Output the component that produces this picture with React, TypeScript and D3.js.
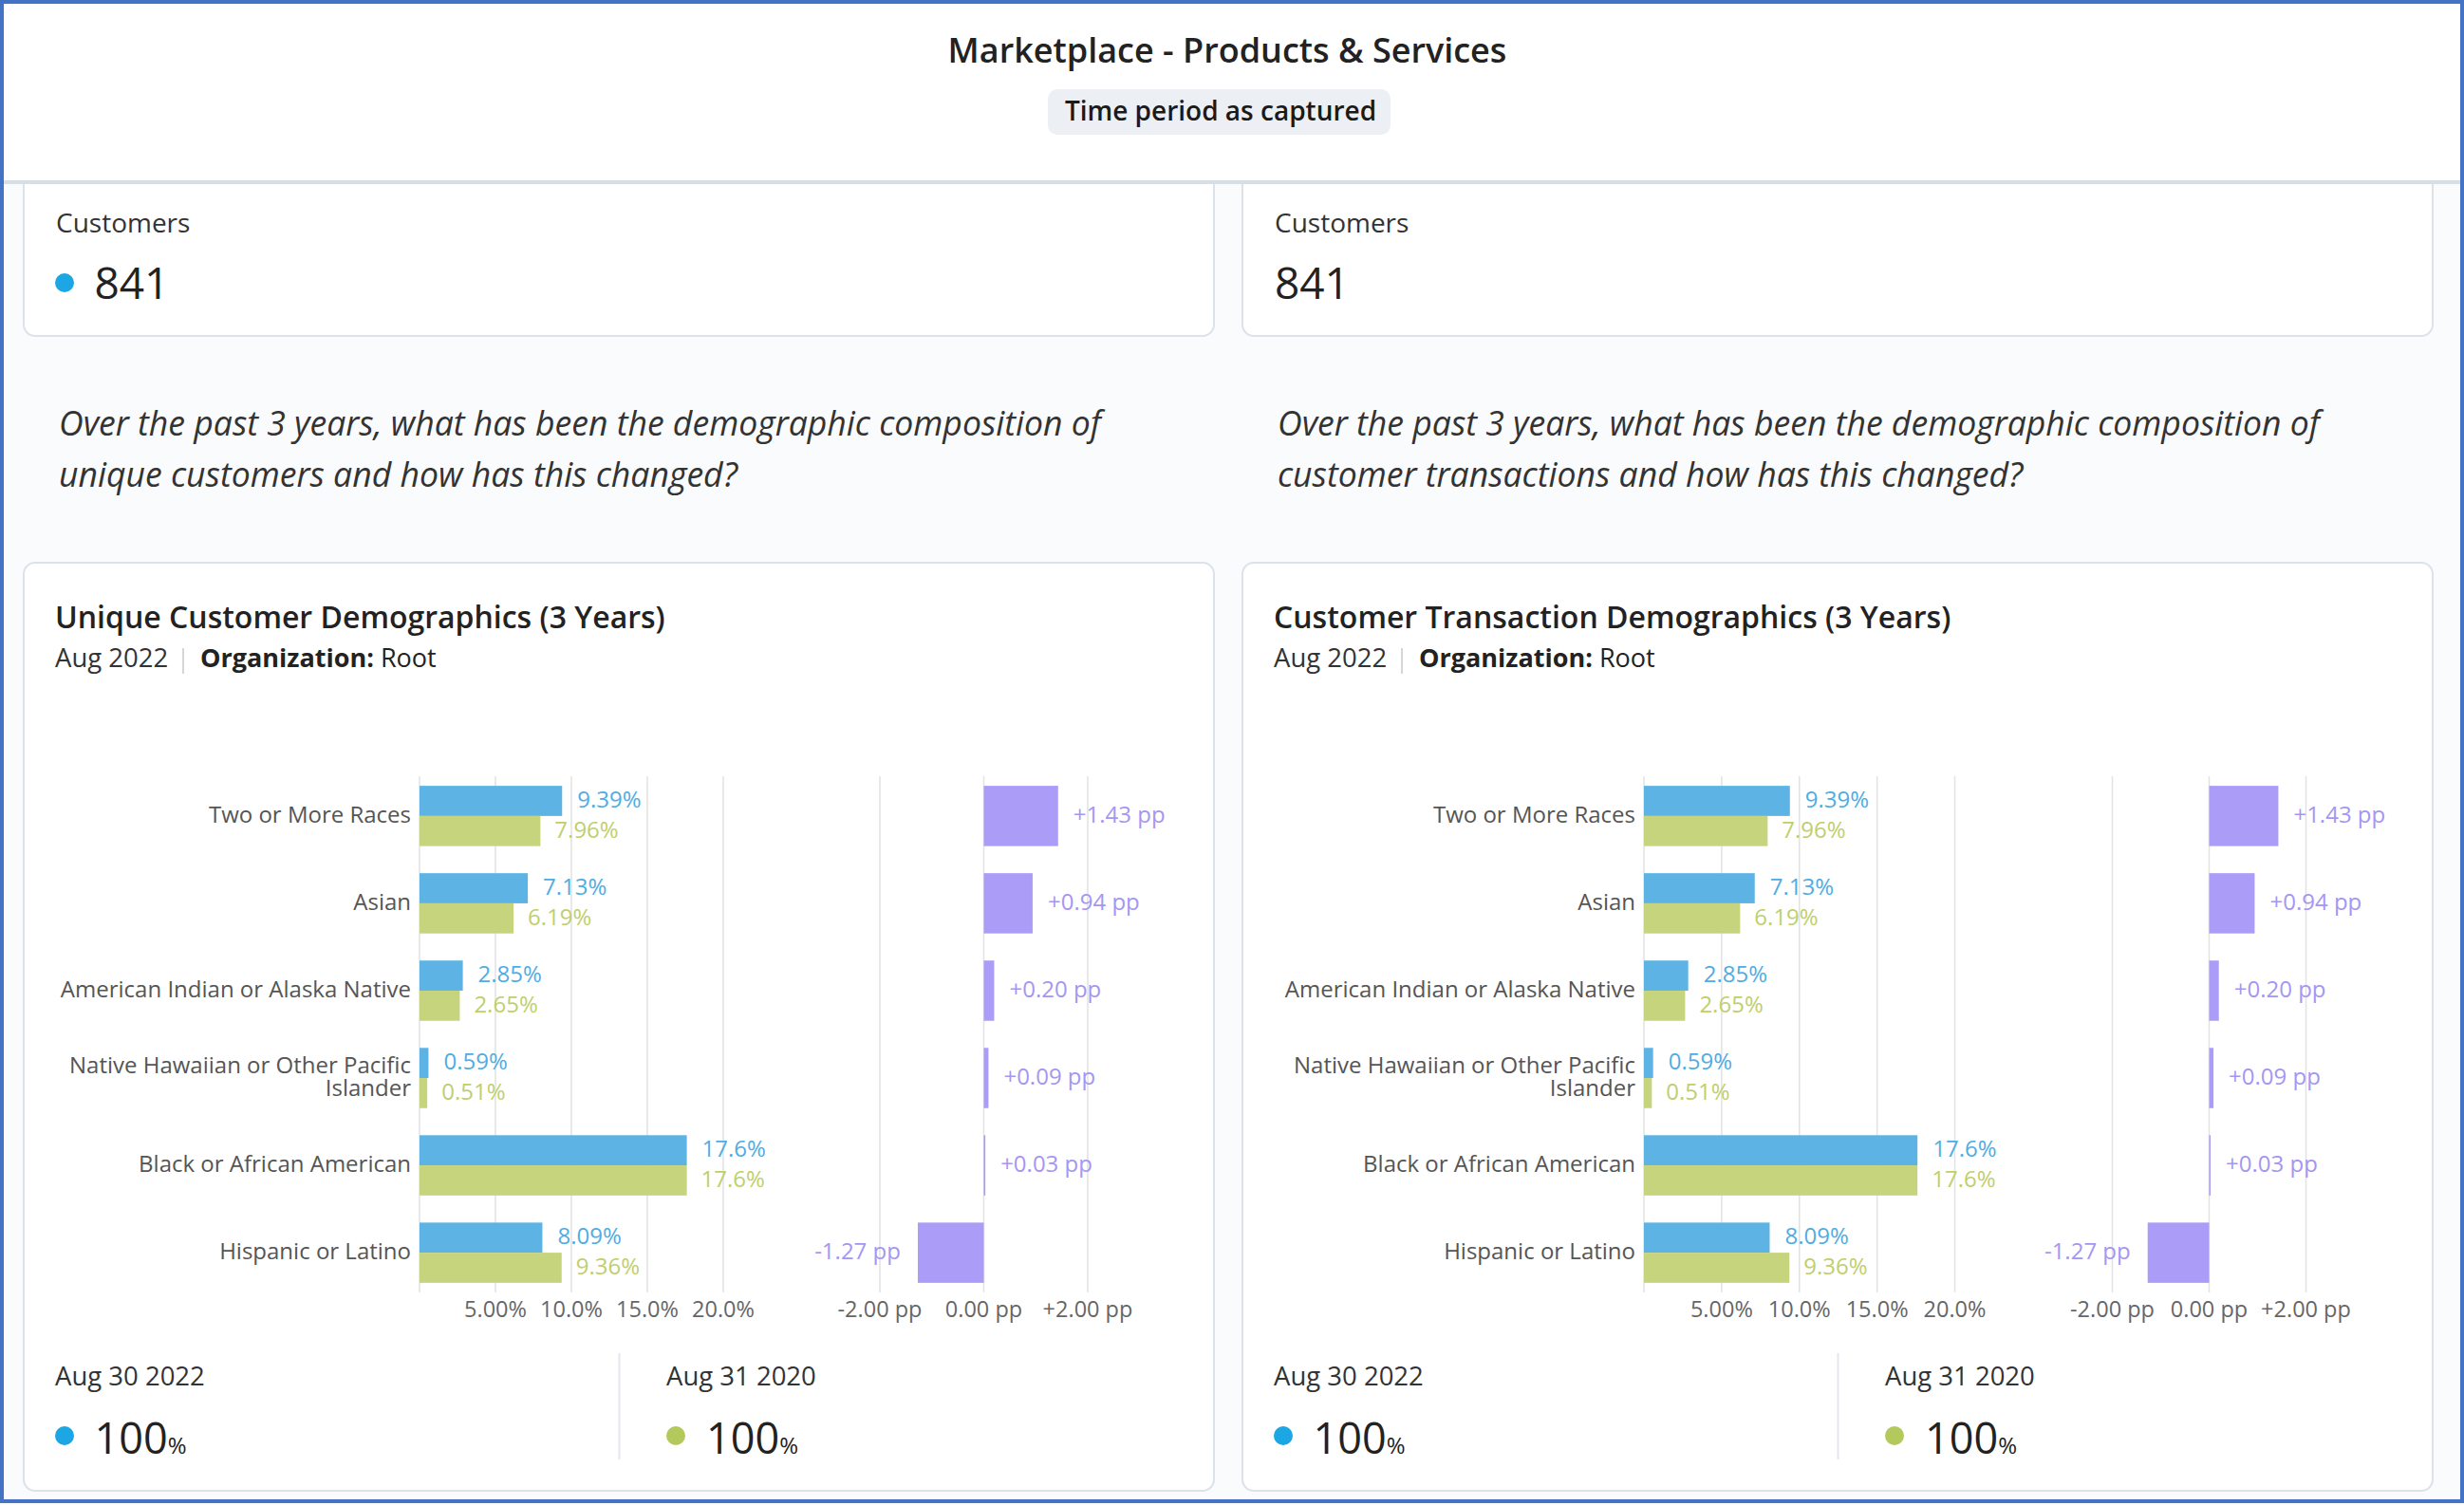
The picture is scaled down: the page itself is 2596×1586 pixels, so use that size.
import React, { useEffect } from "react";
import * as d3 from "d3";

const W = 2596;
const H = 1586;
const FONT = "'Open Sans', 'Noto Sans', sans-serif";

// ---------- data ----------
const CATEGORIES = [
  "Two or More Races",
  "Asian",
  "American Indian or Alaska Native",
  "Native Hawaiian or Other Pacific Islander",
  "Black or African American",
  "Hispanic or Latino",
];
const UNIQUE_2022 = [9.39, 7.13, 2.85, 0.59, 17.6, 8.09];
const UNIQUE_2020 = [7.96, 6.19, 2.65, 0.51, 17.6, 9.36];
const UNIQUE_DELTA = [1.43, 0.94, 0.2, 0.09, 0.03, -1.27];
const TRANS_2022 = [9.39, 7.13, 2.85, 0.59, 17.6, 8.09];
const TRANS_2020 = [7.96, 6.19, 2.65, 0.51, 17.6, 9.36];
const TRANS_DELTA = [1.43, 0.94, 0.2, 0.09, 0.03, -1.27];
const PCT_TICKS = [0, 5, 10, 15, 20];
const PP_TICKS = [-2, 0, 2];
const CUSTOMERS = 841;
const TOTAL_CURRENT = 100;
const TOTAL_PRIOR = 100;
const DATE_CURRENT = "Aug 30 2022";
const DATE_PRIOR = "Aug 31 2020";

// ---------- style ----------
const C_BLUE = "#5db4e4";
const C_GREEN = "#c6d47d";
const C_PURPLE = "#ab9df7";
const C_BLUE_TXT = "#4fade3";
const C_GREEN_TXT = "#c0cf6c";
const C_PURPLE_TXT = "#a596f4";
const C_DOT_BLUE = "#1ca6e4";
const C_DOT_GREEN = "#b4c95c";
const C_GRID = "#e2e2e2";
const C_BORDER = "#dce2ea";
const CHART_FS = 24;

const PANELS = [
  {
    x: 25,
    dot: true,
    question: [
      "Over the past 3 years, what has been the demographic composition of",
      "unique customers and how has this changed?",
    ],
    title: "Unique Customer Demographics (3 Years)",
    current: UNIQUE_2022,
    prior: UNIQUE_2020,
    delta: UNIQUE_DELTA,
    pctRange: [417, 737],
    ppRange: [902, 1121],
  },
  {
    x: 1309,
    dot: false,
    question: [
      "Over the past 3 years, what has been the demographic composition of",
      "customer transactions and how has this changed?",
    ],
    title: "Customer Transaction Demographics (3 Years)",
    current: TRANS_2022,
    prior: TRANS_2020,
    delta: TRANS_DELTA,
    pctRange: [423, 750.5],
    ppRange: [916.5, 1120.5],
  },
];

const CARD_W = 1254;
const fmtTick = d3.format(".3r");
const fmtPP = (v: number) =>
  v === 0 ? "0.00" : (v > 0 ? "+" : "-") + Math.abs(v).toFixed(2);

function wrap(label: string, maxChars: number): string[] {
  const words = label.split(" ");
  const lines: string[] = [];
  let cur = "";
  for (const w of words) {
    const next = cur ? cur + " " + w : w;
    if (next.length > maxChars && cur) {
      lines.push(cur);
      cur = w;
    } else cur = next;
  }
  if (cur) lines.push(cur);
  return lines;
}

function Panel({ cfg }: { cfg: any }) {
  const x0 = cfg.x;
  const pct = d3.scaleLinear().domain([0, 20]).range(cfg.pctRange.map((v: number) => v + x0));
  const pp = d3.scaleLinear().domain([-2, 2]).range(cfg.ppRange.map((v: number) => v + x0));
  const y = d3
    .scaleBand<string>()
    .domain(CATEGORIES)
    .range([818, 1362])
    .paddingInner(0.31)
    .paddingOuter(0.11);
  const bw = y.bandwidth();
  const half = bw / 2;
  const labelX = pct(0) - 9;
  const chartTop = 818;
  const chartBottom = 1362;

  return (
    <g>
      {/* KPI card */}
      <rect x={x0} y={150} width={CARD_W} height={204} rx={12} fill="#fff" stroke={C_BORDER} strokeWidth={2} />
      <text x={x0 + 34} y={245} fontSize={28} fill="#333">Customers</text>
      {cfg.dot && <circle cx={x0 + 43} cy={298} r={10} fill={C_DOT_BLUE} />}
      <text x={x0 + (cfg.dot ? 74.5 : 34)} y={315} fontSize={46} fill="#222">{CUSTOMERS}</text>

      {/* question */}
      {cfg.question.map((q: string, i: number) => (
        <text key={i} x={x0 + 37} y={459 + i * 53.5} fontSize={35.6} fontStyle="italic" fill="#333">{q}</text>
      ))}

      {/* chart card */}
      <rect x={x0} y={593} width={CARD_W} height={978} rx={12} fill="#fff" stroke={C_BORDER} strokeWidth={2} />
      <text x={x0 + 33} y={662} fontSize={32} fontWeight={600} fill="#222">{cfg.title}</text>
      <text x={x0 + 33} y={703} fontSize={27.5} fill="#333">Aug 2022</text>
      <line x1={x0 + 168} x2={x0 + 168} y1={683} y2={710} stroke="#c8c8c8" strokeWidth={1.5} />
      <text x={x0 + 186} y={703} fontSize={27} fill="#222">
        <tspan fontWeight={700}>Organization:</tspan>
        <tspan> Root</tspan>
      </text>

      {/* gridlines */}
      {PCT_TICKS.map((t) => (
        <line key={"g" + t} x1={pct(t)} x2={pct(t)} y1={chartTop} y2={chartBottom} stroke={C_GRID} strokeWidth={1.5} />
      ))}
      {PP_TICKS.map((t) => (
        <line key={"p" + t} x1={pp(t)} x2={pp(t)} y1={chartTop} y2={chartBottom} stroke={C_GRID} strokeWidth={1.5} />
      ))}

      {/* tick labels */}
      {PCT_TICKS.filter((t) => t > 0).map((t) => (
        <text key={"tl" + t} x={pct(t)} y={1379.5} dy="0.35em" textAnchor="middle" fontSize={23.5} fill="#666">
          {fmtTick(t)}%
        </text>
      ))}
      {PP_TICKS.map((t) => (
        <text key={"pl" + t} x={pp(t)} y={1379.5} dy="0.35em" textAnchor="middle" fontSize={23.5} fill="#666">
          {fmtPP(t)} pp
        </text>
      ))}

      {CATEGORIES.map((c, i) => {
        const top = y(c)!;
        const lines = wrap(c, 33);
        const cy = top + half;
        const cur = cfg.current[i];
        const pri = cfg.prior[i];
        const d = cfg.delta[i];
        const dx0 = pp(Math.min(0, d));
        const dx1 = pp(Math.max(0, d));
        return (
          <g key={c}>
            {lines.map((ln, k) => (
              <text
                key={k}
                x={labelX}
                y={cy + (k - (lines.length - 1) / 2) * 24 - 1.5}
                dy="0.35em"
                textAnchor="end"
                fontSize={CHART_FS}
                fill="#555"
              >
                {ln}
              </text>
            ))}
            <rect x={pct(0)} y={top} width={pct(cur) - pct(0)} height={half} fill={C_BLUE} />
            <rect x={pct(0)} y={top + half} width={pct(pri) - pct(0)} height={half} fill={C_GREEN} />
            <text x={pct(cur) + 16} y={top + half / 2 - 1.5} dy="0.35em" fontSize={CHART_FS} fill={C_BLUE_TXT}>
              {cur}%
            </text>
            <text x={pct(pri) + 15} y={top + half * 1.5 - 1.5} dy="0.35em" fontSize={CHART_FS} fill={C_GREEN_TXT}>
              {pri}%
            </text>
            <rect x={dx0} y={top} width={Math.max(dx1 - dx0, 1)} height={bw} fill={C_PURPLE} />
            <text
              x={d >= 0 ? dx1 + 16 : dx0 - 18}
              y={cy - 1.5}
              dy="0.35em"
              textAnchor={d >= 0 ? "start" : "end"}
              fontSize={CHART_FS}
              fill={C_PURPLE_TXT}
            >
              {fmtPP(d)} pp
            </text>
          </g>
        );
      })}

      {/* bottom KPIs */}
      <text x={x0 + 33} y={1460} fontSize={27.5} fill="#333">{DATE_CURRENT}</text>
      <circle cx={x0 + 43} cy={1513} r={10} fill={C_DOT_BLUE} />
      <text x={x0 + 74.5} y={1532} fontSize={45} fill="#222">
        {TOTAL_CURRENT}
        <tspan fontSize={24}>%</tspan>
      </text>
      <line x1={x0 + 627.5} x2={x0 + 627.5} y1={1426} y2={1538} stroke="#e3e7ec" strokeWidth={2} />
      <text x={x0 + 677} y={1460} fontSize={27.5} fill="#333">{DATE_PRIOR}</text>
      <circle cx={x0 + 687} cy={1513} r={10} fill={C_DOT_GREEN} />
      <text x={x0 + 719} y={1532} fontSize={45} fill="#222">
        {TOTAL_PRIOR}
        <tspan fontSize={24}>%</tspan>
      </text>
    </g>
  );
}

export default function App() {
  useEffect(() => {
    document.body.style.margin = "0";
  }, []);
  return (
    <svg
      width={W}
      height={H}
      viewBox={`0 0 ${W} ${H}`}
      style={{ display: "block", position: "absolute", left: 0, top: 0 }}
      fontFamily={FONT}
    >
      <rect x={0} y={0} width={W} height={H} fill="#fafbfc" />
      {PANELS.map((p, i) => (
        <Panel key={i} cfg={p} />
      ))}
      {/* header */}
      <rect x={0} y={0} width={W} height={190} fill="#fff" />
      <rect x={0} y={190} width={W} height={4} fill="#d6dee6" />
      <text x={1293} y={66} textAnchor="middle" fontSize={36} fontWeight={600} fill="#222">
        Marketplace - Products &amp; Services
      </text>
      <rect x={1104} y={94} width={361} height={48} rx={10} fill="#eceff3" />
      <text x={1286} y={127} textAnchor="middle" fontSize={28} fontWeight={600} fill="#1a1a1a">
        Time period as captured
      </text>
      {/* outer border */}
      <rect x={2} y={2} width={W - 4} height={H - 6} fill="none" stroke="#4472c4" strokeWidth={4} />
    </svg>
  );
}
